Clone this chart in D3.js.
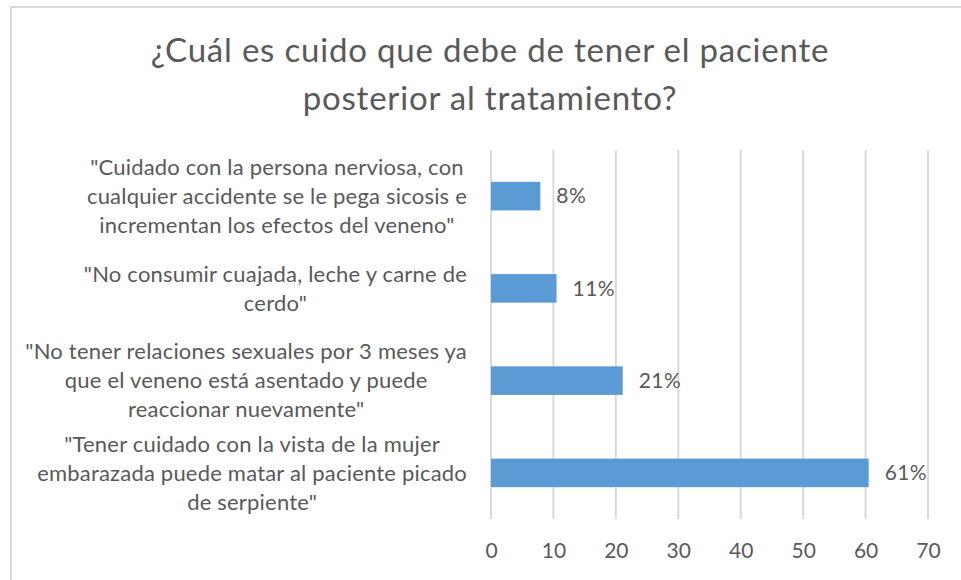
<!DOCTYPE html>
<html>
<head>
<meta charset="utf-8">
<script src="https://cdn.jsdelivr.net/npm/d3@7"></script>
<style>
  body { margin: 0; background: #fff; }
  text { font-family: Lato, "Open Sans", sans-serif; fill: #595959; }
</style>
</head>
<body>
<div id="chart"></div>
<script>
// chart data
var titleLines = ["¿Cuál es cuido que debe de tener el paciente", "posterior al tratamiento?"];
var categories = [
  ["\"Cuidado con la persona nerviosa, con", "cualquier accidente se le pega sicosis e", "incrementan los efectos del veneno\""],
  ["\"No consumir cuajada, leche y carne de", "cerdo\""],
  ["\"No tener relaciones sexuales por 3 meses ya", "que el veneno está asentado y puede", "reaccionar nuevamente\""],
  ["\"Tener cuidado con la vista de la mujer", "embarazada puede matar al paciente picado", "de serpiente\""]
];
var values = [7.9, 10.5, 21.1, 60.5];
var valueLabels = ["8%", "11%", "21%", "61%"];
var xTicks = [0, 10, 20, 30, 40, 50, 60, 70];

var svgWidth = 961;
var svgHeight = 580;

var margin = { top: 150, bottom: 61, left: 491, right: 33 };
var width = svgWidth - margin.left - margin.right;
var height = svgHeight - margin.top - margin.bottom;

var svg = d3.select("#chart")
  .append("svg")
  .attr("width", svgWidth)
  .attr("height", svgHeight);

// chart frame
svg.append("rect")
  .attr("x", 11)
  .attr("y", 7)
  .attr("width", 970)
  .attr("height", 600)
  .attr("fill", "none")
  .attr("stroke", "#d9d9d9")
  .attr("stroke-width", 2);

// title
svg.append("g")
  .selectAll("text")
  .data(titleLines)
  .enter()
  .append("text")
  .attr("x", 490)
  .attr("y", (d, i) => 62 + i * 48)
  .attr("text-anchor", "middle")
  .style("font-size", "33px")
  .style("letter-spacing", "0.8px")
  .text(d => d);

var chartGroup = svg.append("g")
  .attr("transform", `translate(${margin.left}, ${margin.top})`);

var xScale = d3.scaleLinear()
  .domain([0, 70])
  .range([0, width]);

var yScale = d3.scaleBand()
  .domain(d3.range(categories.length))
  .range([0, height])
  .paddingInner(0.69)
  .paddingOuter(0.345);

// vertical gridlines
chartGroup.append("g")
  .selectAll("line")
  .data(xTicks)
  .enter()
  .append("line")
  .attr("x1", d => xScale(d))
  .attr("x2", d => xScale(d))
  .attr("y1", 0)
  .attr("y2", height)
  .attr("stroke", "#d9d9d9")
  .attr("stroke-width", 2);

// x axis labels
var xAxis = chartGroup.append("g")
  .attr("transform", `translate(0, ${height})`)
  .call(d3.axisBottom(xScale).tickValues(xTicks).tickSize(0).tickPadding(24));
xAxis.select(".domain").remove();
xAxis.selectAll("text")
  .style("font-size", "21px")
  .style("font-family", "Lato, sans-serif")
  .attr("fill", "#595959");

// bars
chartGroup.selectAll("rect.bar")
  .data(values)
  .enter()
  .append("rect")
  .attr("class", "bar")
  .attr("x", 0)
  .attr("y", (d, i) => yScale(i))
  .attr("width", d => xScale(d))
  .attr("height", yScale.bandwidth())
  .attr("fill", "#5b9bd5");

// data labels
chartGroup.selectAll("text.value")
  .data(values)
  .enter()
  .append("text")
  .attr("class", "value")
  .attr("x", d => xScale(d) + 16)
  .attr("y", (d, i) => yScale(i) + yScale.bandwidth() / 2)
  .attr("dy", "0.35em")
  .style("font-size", "21px")
  .style("letter-spacing", "0.4px")
  .text((d, i) => valueLabels[i]);

// category labels: lines centred within a block right-aligned to the axis
var labelRight = 467;
var lineHeight = 29;
categories.forEach(function(lines, i) {
  var g = svg.append("g");
  var texts = g.selectAll("text")
    .data(lines)
    .enter()
    .append("text")
    .style("font-size", "22px")
    .style("letter-spacing", "0.2px")
    .attr("text-anchor", "middle")
    .attr("dy", "0.35em")
    .text(d => d);
  var maxW = d3.max(texts.nodes(), n => n.getComputedTextLength());
  var cy = margin.top + yScale(i) + yScale.bandwidth() / 2;
  texts
    .attr("x", labelRight - maxW / 2)
    .attr("y", (d, j) => cy + (j - (lines.length - 1) / 2) * lineHeight);
});
</script>
</body>
</html>
